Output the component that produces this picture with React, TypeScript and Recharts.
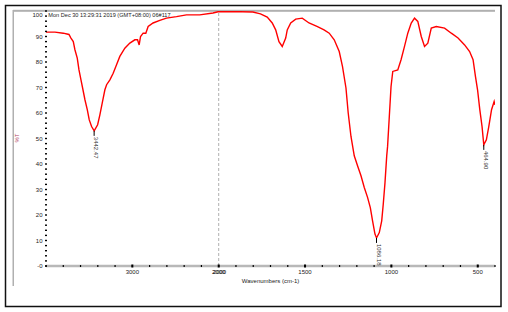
import React from "react";
import { LineChart, Line, XAxis, YAxis, ReferenceLine, ReferenceDot } from "recharts";

// FTIR spectrum: wavenumber (cm-1) vs transmittance (%T)
const wavenumbers = [
  4000, 3896, 3800, 3734, 3711, 3684, 3665, 3638, 3618, 3595, 3576, 3549, 3522, 3499, 3472, 3442,
  3402, 3376, 3349, 3318, 3298, 3260, 3222, 3183, 3145, 3087, 3029, 2971, 2940, 2921, 2905, 2875,
  2844, 2817, 2760, 2682, 2605, 2489, 2373, 2220, 2066, 2008, 1919, 1802, 1758, 1719, 1690, 1670,
  1651, 1632, 1612, 1603, 1583, 1554, 1516, 1477, 1428, 1390, 1360, 1331, 1302, 1283, 1263, 1250,
  1234, 1215, 1196, 1176, 1157, 1138, 1122, 1109, 1095, 1086, 1070, 1056, 1047, 1037, 1027, 1022,
  1012, 1002, 992, 963, 944, 924, 905, 885, 866, 847, 827, 808, 789, 769, 740, 692, 653, 614, 576,
  547, 527, 513, 501, 488, 475, 465, 450, 436, 420, 405, 401,
];
const transmittance = [
  91.7, 91.7, 91.3, 90.8, 89.4, 88.0, 84.8, 81.5, 76.9, 73.0, 69.8, 65.2, 61.3, 57.3, 54.7, 53.0,
  55.4, 59.3, 63.9, 69.1, 71.1, 73.0, 75.6, 78.9, 82.2, 85.4, 87.4, 88.7, 88.7, 86.7, 90.0, 91.3,
  91.3, 93.9, 95.3, 96.3, 97.2, 97.8, 98.5, 98.5, 99.2, 99.7, 99.8, 99.6, 98.9, 97.6, 95.3, 92.6,
  88.0, 86.1, 89.4, 92.6, 95.3, 96.8, 97.2, 95.3, 93.9, 92.6, 91.3, 88.7, 84.1, 78.2, 69.8, 60.0,
  50.8, 43.2, 39.3, 35.4, 30.8, 26.9, 22.9, 17.7, 12.5, 11.0, 13.1, 17.7, 24.3, 32.7, 43.2, 46.9,
  58.6, 70.4, 76.3, 76.9, 80.9, 86.1, 91.3, 95.3, 97.2, 95.9, 90.0, 86.1, 87.4, 93.3, 93.9, 93.3,
  91.3, 89.4, 86.7, 84.1, 80.9, 74.3, 69.1, 61.3, 54.7, 47.5, 49.5, 54.7, 61.3, 64.5, 63.2,
];

const xMajorTicks = [3000, 2000, 1500, 1000, 500];
const yMajorTicks = [0, 10, 20, 30, 40, 50, 60, 70, 80, 90, 100];

const peakWavenumbers = [3442.47, 1086.18, 464.9];
const peakTransmittance = [53.0, 11.0, 47.5];
const peakLabels = ["3442.47", "1086.18", "464.90"];

const headerText = "Mon Dec 30 13:29:31 2019 (GMT+08:00)  06#117";
const xAxisTitle = "Wavenumbers (cm-1)";
const yAxisTitle = "%T";

// The instrument plots 4000-2000 at half the scale of 2000-400 (split axis).
const toAxis = (wn: number) => (wn >= 2000 ? (4000 - wn) / 1000 : 2 + (2000 - wn) / 500);
const fromAxis = (u: number) => (u <= 2 ? 4000 - u * 1000 : 2000 - (u - 2) * 500);

const data = wavenumbers.map((wn, i) => ({ u: toAxis(wn), t: transmittance[i] }));
const xTickPositions = Array.from({ length: 27 }, (_, i) => i / 5);
const yTickPositions = Array.from({ length: 51 }, (_, i) => i * 2);

const FONT = "'Liberation Sans', Arial, sans-serif";

const XTick = (props: any) => {
  const { x, y, payload } = props;
  const u = payload.value as number;
  const wn = Math.round(fromAxis(u));
  const major = xMajorTicks.includes(wn) && Math.abs(u - Math.round(u)) < 1e-6;
  return (
    <g>
      <rect x={x - 0.6} y={y - 1} width={1.2} height={2} fill="#000" />
      {major && <rect x={x - 1} y={y - 1.5} width={2} height={3} fill="#000" />}
      {major && (
        <text x={x} y={y + 7.8} textAnchor="middle" fontSize={6} fontFamily={FONT} fill="#222">
          {wn}
        </text>
      )}
      {major && wn === 2000 && (
        <text x={x + 0.8} y={y + 7.8} textAnchor="middle" fontSize={6} fontFamily={FONT} fill="#222">
          {wn}
        </text>
      )}
    </g>
  );
};

const YTick = (props: any) => {
  const { x, y, payload } = props;
  const v = payload.value as number;
  const major = yMajorTicks.includes(v);
  return (
    <g>
      <rect x={x - 1} y={y - 0.7} width={2} height={1.4} fill="#000" />
      {major && (
        <text
          x={x - 3.5}
          y={v === 100 ? y + 4 : y}
          dy="0.35em"
          textAnchor="end"
          fontSize={6}
          fontFamily={FONT}
          fill="#222"
        >
          {v === 0 ? "-0" : v}
        </text>
      )}
    </g>
  );
};

const PeakMark = (label: string) => (props: any) => {
  const { cx, cy } = props;
  return (
    <g>
      <line x1={cx} y1={cy} x2={cx} y2={cy + 5} stroke="#000" strokeWidth={1} />
      <text
        transform={`translate(${cx},${cy + 6}) rotate(90)`}
        textAnchor="start"
        fontSize={6}
        fontFamily={FONT}
        fill="#333"
      >
        {label}
      </text>
    </g>
  );
};

export default function App() {
  return (
    <div style={{ position: "absolute", left: 0, top: 0, width: 508, height: 312, background: "#fff" }}>
      <svg width={508} height={312} style={{ position: "absolute", left: 0, top: 0 }}>
        <rect x={5.5} y={5.5} width={495.5} height={301} fill="none" stroke="#111" strokeWidth={1.5} />
        <rect x={12.5} y={10} width={1.5} height={276} fill="#b0b0b0" />
        <rect x={13} y={9.8} width={482} height={2} fill="#b0b0b0" />
        <text x={48.3} y={15.3} dy="0.35em" fontSize={5.6} fontFamily={FONT} fill="#222">
          {headerText}
        </text>
        <text
          transform="translate(16.5,138) rotate(-90)"
          textAnchor="middle"
          dy="0.35em"
          fontSize={6}
          fontFamily={FONT}
          fill="#b04060"
        >
          {yAxisTitle}
        </text>
        <text x={270.5} y={281} dy="0.35em" textAnchor="middle" fontSize={6} fontFamily={FONT} fill="#222">
          {xAxisTitle}
        </text>
      </svg>
      <div style={{ position: "absolute", left: 0, top: 0 }}>
        <LineChart width={508} height={312} data={data} margin={{ top: 11, right: 13, bottom: 16, left: 16 }}>
          <XAxis
            dataKey="u"
            type="number"
            domain={[0, 5.2]}
            ticks={xTickPositions}
            interval={0}
            tickSize={0}
            tickMargin={0}
            height={30}
            tick={XTick}
            axisLine={{ stroke: "#b8b8b8", strokeWidth: 2.5 }}
            tickLine={false}
            allowDataOverflow
          />
          <YAxis
            type="number"
            domain={[0, 100]}
            ticks={yTickPositions}
            interval={0}
            tickSize={0}
            tickMargin={0}
            width={30}
            tick={YTick}
            axisLine={false}
            tickLine={false}
            allowDataOverflow
          />
          <ReferenceLine x={2} stroke="#b0b0b0" strokeDasharray="3 2" strokeWidth={1} />
          <Line
            dataKey="t"
            type="linear"
            stroke="#ff0000"
            strokeWidth={1.4}
            dot={false}
            isAnimationActive={false}
          />
          {peakWavenumbers.map((wn, i) => (
            <ReferenceDot
              key={peakLabels[i]}
              x={toAxis(wn)}
              y={peakTransmittance[i]}
              r={0}
              shape={PeakMark(peakLabels[i])}
            />
          ))}
        </LineChart>
      </div>
    </div>
  );
}
